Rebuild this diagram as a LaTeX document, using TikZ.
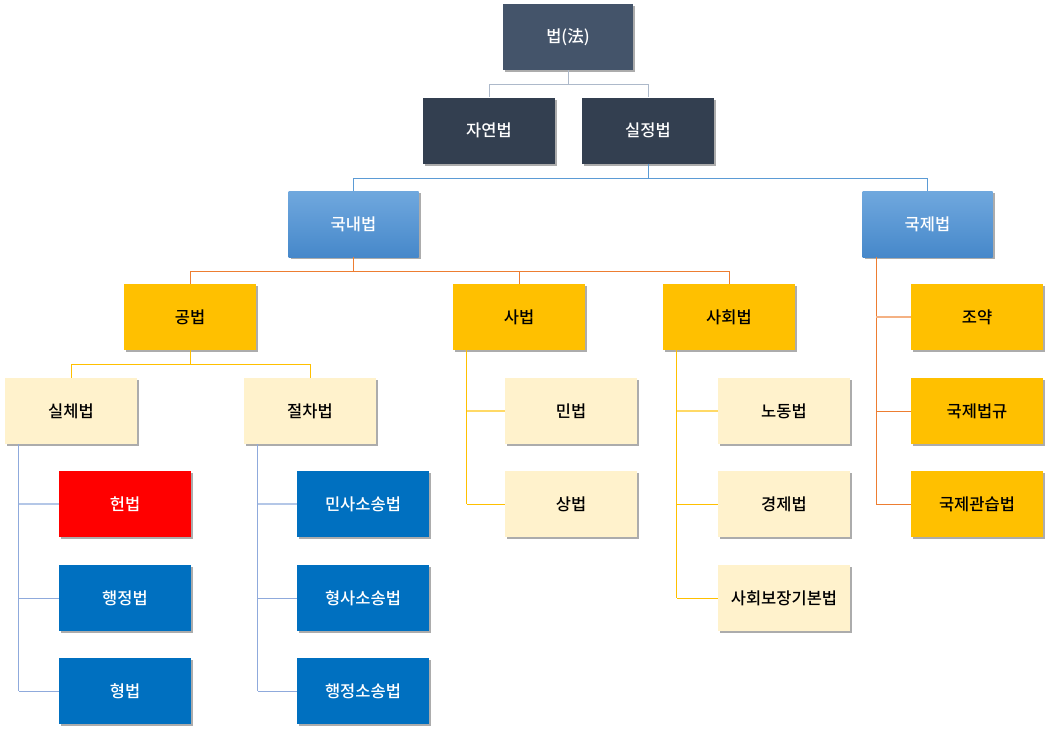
\documentclass[tikz,border=0pt]{standalone}
\usepackage{fontspec}
\setmainfont{Noto Sans CJK KR}[UprightFont=* Medium]
\usetikzlibrary{shadows,calc}
\definecolor{cLaw}{HTML}{44546A}
\definecolor{cDark}{HTML}{333F50}
\definecolor{cBlueTop}{HTML}{70A8DE}
\definecolor{cBlueBot}{HTML}{4688CA}
\definecolor{cGold}{HTML}{FFC000}
\definecolor{cCream}{HTML}{FFF2CC}
\definecolor{cRed}{HTML}{FF0000}
\definecolor{cBlue}{HTML}{0070C0}
\definecolor{lGrey}{HTML}{ADB9CA}
\definecolor{lBlue}{HTML}{5B9BD5}
\definecolor{lOrange}{HTML}{ED7D31}
\definecolor{lOrangeLt}{HTML}{F4B183}
\definecolor{lGold}{HTML}{FFC000}
\definecolor{lGoldLt}{HTML}{FFD966}
\definecolor{lPeri}{HTML}{8FAADC}
\definecolor{lPeriLt}{HTML}{B4C7E7}
\tikzset{
  box/.style={minimum width=132pt, minimum height=66pt, inner sep=0pt,
    font=\fontsize{16.5}{20}\selectfont,
    drop shadow={shadow xshift=2pt, shadow yshift=-2pt, opacity=0.5, fill=black!65}},
  lawbox/.style={box, fill=cLaw, text=white, minimum width=130pt},
  darkbox/.style={box, fill=cDark, text=white},
  bluegrad/.style={box, top color=cBlueTop, bottom color=cBlueBot, text=white, minimum width=130pt},
  goldbox/.style={box, fill=cGold, text=black},
  creambox/.style={box, fill=cCream, text=black},
  redbox/.style={box, fill=cRed, text=white},
  bluebox/.style={box, fill=cBlue, text=white},
  conn/.style={line width=1pt},
}
\begin{document}
\begin{tikzpicture}[x=1pt,y=-1pt]
\useasboundingbox (0,0) rectangle (1049,732);
% nodes
\node[lawbox] (law) at (568,37) {법(法)};
\node[darkbox] (nat) at (489,130.5) {자연법};
\node[darkbox] (pos) at (648,130.5) {실정법};
\node[bluegrad] (dom) at (353.5,224) {국내법};
\node[bluegrad] (intl) at (927.5,224) {국제법};
\node[goldbox] (pub) at (190,317) {공법};
\node[goldbox] (priv) at (519,317) {사법};
\node[goldbox] (soc) at (729,317) {사회법};
\node[creambox] (subst) at (71,411) {실체법};
\node[creambox] (proc) at (310,411) {절차법};
\node[creambox] (civ) at (571,411) {민법};
\node[creambox] (com) at (571,504) {상법};
\node[creambox] (labor) at (784,411) {노동법};
\node[creambox] (econ) at (784,504) {경제법};
\node[creambox] (socsec) at (784,598) {사회보장기본법};
\node[goldbox] (treaty) at (977,317) {조약};
\node[goldbox] (intrule) at (977,411) {국제법규};
\node[goldbox] (custom) at (977,504) {국제관습법};
\node[redbox] (const) at (125,504) {헌법};
\node[bluebox] (admin) at (125,598) {행정법};
\node[bluebox] (crim) at (125,691) {형법};
\node[bluebox] (civpro) at (363,504) {민사소송법};
\node[bluebox] (crimpro) at (363,598) {형사소송법};
\node[bluebox] (adminpro) at (363,691) {행정소송법};
% top-down connectors
\draw[conn, lGrey] (law.south) -- ++(0,14) -| (nat.north);
\draw[conn, lGrey] (law.south) -- ++(0,14) -| (pos.north);
\draw[conn, lBlue] (pos.south) -- ++(0,15) -| (dom.north);
\draw[conn, lBlue] (pos.south) -- ++(0,15) -| (intl.north);
\draw[conn, lOrange] (dom.south) -- ++(0,14) -| (pub.north);
\draw[conn, lOrange] (dom.south) -- ++(0,14) -| (priv.north);
\draw[conn, lOrange] (dom.south) -- ++(0,14) -| (soc.north);
\draw[conn, lGold] (pub.south) -- ++(0,14) -| (subst.north);
\draw[conn, lGold] (pub.south) -- ++(0,14) -| (proc.north);
% side connectors
\coordinate (sX) at ($(subst.south west)+(14,0)$);
\draw[conn, lPeri] (sX) -- (sX |- crim.west);
\draw[conn, lPeriLt, line width=1.6pt] (sX |- const.west) -- (const.west);
\draw[conn, lPeri] (sX |- admin.west) -- (admin.west);
\draw[conn, lPeri] (sX |- crim.west) -- (crim.west);
\coordinate (pX) at ($(proc.south west)+(14,0)$);
\draw[conn, lPeri] (pX) -- (pX |- adminpro.west);
\draw[conn, lPeriLt, line width=1.6pt] (pX |- civpro.west) -- (civpro.west);
\draw[conn, lPeri] (pX |- crimpro.west) -- (crimpro.west);
\draw[conn, lPeri] (pX |- adminpro.west) -- (adminpro.west);
\coordinate (vX) at ($(priv.south west)+(14,0)$);
\draw[conn, lGold] (vX) -- (vX |- com.west);
\draw[conn, lGoldLt, line width=1.6pt] (vX |- civ.west) -- (civ.west);
\draw[conn, lGold] (vX |- com.west) -- (com.west);
\coordinate (oX) at ($(soc.south west)+(14,0)$);
\draw[conn, lGold] (oX) -- (oX |- socsec.west);
\draw[conn, lGoldLt, line width=1.6pt] (oX |- labor.west) -- (labor.west);
\draw[conn, lGold] (oX |- econ.west) -- (econ.west);
\draw[conn, lGold] (oX |- socsec.west) -- (socsec.west);
\coordinate (iX) at ($(intl.south west)+(14,0)$);
\draw[conn, lOrange] (iX) -- (iX |- custom.west);
\draw[conn, lOrangeLt, line width=1.6pt] (iX |- treaty.west) -- (treaty.west);
\draw[conn, lOrange] (iX |- intrule.west) -- (intrule.west);
\draw[conn, lOrange] (iX |- custom.west) -- (custom.west);
\end{tikzpicture}
\end{document}
